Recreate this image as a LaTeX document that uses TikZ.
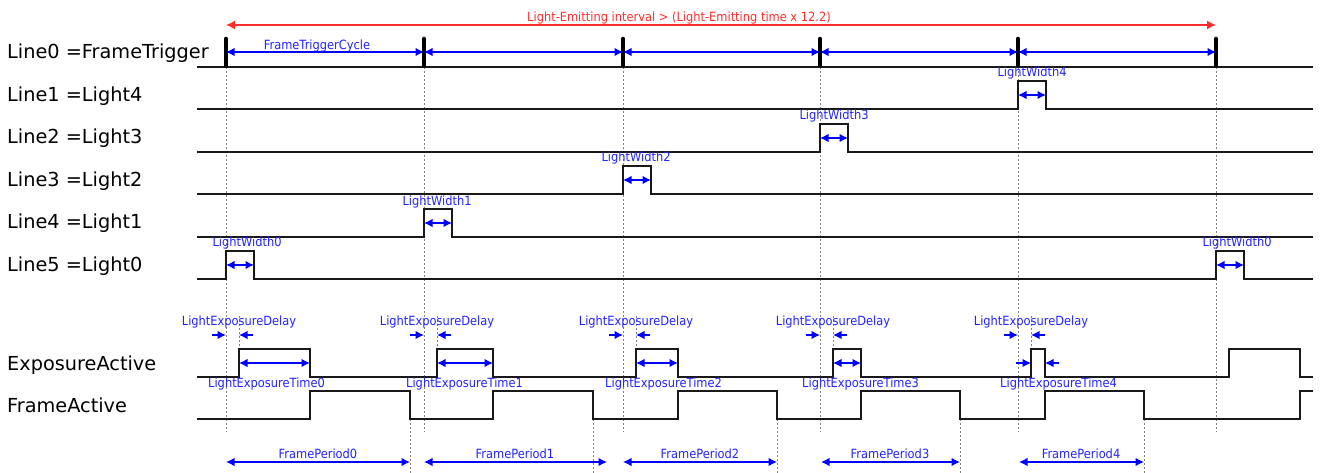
\documentclass[tikz,border=0pt]{standalone}
\usepackage{fontspec}
\setmainfont{DejaVu Sans}
\newfontfamily\smallfont[FakeStretch=0.9]{DejaVu Sans}
\usetikzlibrary{arrows.meta}
\definecolor{dimblue}{RGB}{0,0,255}
\definecolor{txtblue}{RGB}{35,35,255}
\definecolor{txtred}{RGB}{255,45,45}
\definecolor{sigblack}{RGB}{25,25,25}
\tikzset{
  sig/.style={draw=sigblack, line width=1.5pt, line join=miter},
  trig/.style={draw=black, line width=4.6pt, line cap=round},
  guide/.style={draw=gray, line width=0.9pt, dash pattern=on 2pt off 2pt},
  dimboth/.style={draw=dimblue, line width=1.3pt, {Latex[length=8.5pt,width=8.5pt]}-{Latex[length=8.5pt,width=8.5pt]}},
  dimto/.style={draw=dimblue, line width=1.3pt, -{Latex[length=8.5pt,width=8.5pt]}},
  redboth/.style={draw=txtred, line width=1.3pt, {Latex[length=9pt,width=9pt]}-{Latex[length=9pt,width=9pt]}},
  rowlabel/.style={anchor=base west, inner sep=0pt, font=\fontsize{19.3}{19.3}\selectfont, text=black},
  lbl/.style={anchor=base, inner sep=0pt, font=\smallfont\fontsize{12.7}{12.7}\selectfont, text=txtblue},
  lblw/.style={lbl, anchor=base west},
}
\begin{document}
\begin{tikzpicture}[x=1pt,y=-1pt]
\useasboundingbox (0,0) rectangle (1322,473);

% ---- row labels
\node[rowlabel] (r0) at (7,59)  {Line0 =FrameTrigger};
\node[rowlabel] (r1) at (7,102) {Line1 =Light4};
\node[rowlabel] (r2) at (7,144) {Line2 =Light3};
\node[rowlabel] (r3) at (7,186) {Line3 =Light2};
\node[rowlabel] (r4) at (7,229) {Line4 =Light1};
\node[rowlabel] (r5) at (7,271) {Line5 =Light0};
\node[rowlabel] (r6) at (7,370) {ExposureActive};
\node[rowlabel] (r7) at (7,412) {FrameActive};

% ---- guides at trigger instants
\foreach \t in {226,424,623,820,1018,1216}
  \draw[guide] (\t,67) -- (\t,432);
% ---- guides at exposure start
\foreach \t in {239,437,636,833,1031}
  \draw[guide] (\t,316) -- (\t,349);
% ---- guides at FrameActive falls
\foreach \t in {410,593,777,960,1144}
  \draw[guide] (\t,419) -- (\t,473);

% ---- Line0 FrameTrigger
\draw[sig] (197,67) -- (1313,67);
\foreach \i/\t in {0/226,1/424,2/623,3/820,4/1018,5/1216}{
  \draw[trig] (\t,39) -- (\t,65);
  \coordinate (c\i) at (\t,52);
}
\draw[dimboth] (c0) -- (c1);
\draw[dimboth] (c1) -- (c2);
\draw[dimboth] (c2) -- (c3);
\draw[dimboth] (c3) -- (c4);
\draw[dimboth] (c4) -- (c5);
\node[lbl] (ftc) at (317,50) {FrameTriggerCycle};

% ---- red interval
\coordinate (ra) at (226,25);
\coordinate (rb) at (1216,25);
\draw[redboth] (ra) -- (rb);
\node[lbl, text=txtred] (rl) at (679,22) {Light-Emitting interval > (Light-Emitting time x 12.2)};

% ---- Light rows
% Line1 Light4
\draw[sig] (197,109) -- (1018,109) -- (1018,81) -- (1046,81) -- (1046,109) -- (1313,109);
\draw[dimboth] (1018,95) -- (1046,95);
\node[lbl] (w4) at (1032,77) {LightWidth4};
% Line2 Light3
\draw[sig] (197,152) -- (820,152) -- (820,124) -- (848,124) -- (848,152) -- (1313,152);
\draw[dimboth] (820,138) -- (848,138);
\node[lbl] (w3) at (834,120) {LightWidth3};
% Line3 Light2
\draw[sig] (197,194) -- (623,194) -- (623,166) -- (651,166) -- (651,194) -- (1313,194);
\draw[dimboth] (623,180) -- (651,180);
\node[lbl] (w2) at (636,162) {LightWidth2};
% Line4 Light1
\draw[sig] (197,237) -- (424,237) -- (424,209) -- (452,209) -- (452,237) -- (1313,237);
\draw[dimboth] (424,223) -- (452,223);
\node[lbl] (w1) at (437,205) {LightWidth1};
% Line5 Light0
\draw[sig] (197,279) -- (226,279) -- (226,251) -- (254,251) -- (254,279) -- (1216,279) -- (1216,251) -- (1244,251) -- (1244,279) -- (1313,279);
\draw[dimboth] (226,265) -- (254,265);
\draw[dimboth] (1216,265) -- (1244,265);
\node[lbl] (w0) at (247,247) {LightWidth0};
\node[lbl] (w0b) at (1237,247) {LightWidth0};

% ---- LightExposureDelay
\foreach \t/\r in {226/239,424/437,623/636,820/833,1018/1031}{
  \draw[dimto] (\t-14,335) -- (\t,335);
  \draw[dimto] (\r+14,335) -- (\r,335);
  \node[lbl] at (\r,325) {LightExposureDelay};
}

% ---- ExposureActive
\draw[sig] (197,377) -- (239,377) -- (239,349) -- (310,349) -- (310,377)
  -- (437,377) -- (437,349) -- (493,349) -- (493,377)
  -- (636,377) -- (636,349) -- (678,349) -- (678,377)
  -- (833,377) -- (833,349) -- (861,349) -- (861,377)
  -- (1031,377) -- (1031,349) -- (1045,349) -- (1045,377)
  -- (1229,377) -- (1229,349) -- (1300,349) -- (1300,377) -- (1313,377);
\draw[dimboth] (239,363) -- (310,363);
\draw[dimboth] (437,363) -- (493,363);
\draw[dimboth] (636,363) -- (678,363);
\draw[dimboth] (833,363) -- (861,363);
\draw[dimto] (1016,363) -- (1031,363);
\draw[dimto] (1059,363) -- (1045,363);
\node[lblw] (e0) at (208,387) {LightExposureTime0};
\node[lblw] (e1) at (406,387) {LightExposureTime1};
\node[lblw] (e2) at (605,387) {LightExposureTime2};
\node[lblw] (e3) at (802,387) {LightExposureTime3};
\node[lblw] (e4) at (1000,387) {LightExposureTime4};

% ---- FrameActive
\draw[sig] (197,419) -- (310,419) -- (310,391) -- (410,391) -- (410,419)
  -- (493,419) -- (493,391) -- (593,391) -- (593,419)
  -- (678,419) -- (678,391) -- (777,391) -- (777,419)
  -- (861,419) -- (861,391) -- (960,391) -- (960,419)
  -- (1045,419) -- (1045,391) -- (1144,391) -- (1144,419)
  -- (1300,419) -- (1300,391) -- (1313,391);

% ---- FramePeriod
\draw[dimboth] (226,462) -- (410,462);
\draw[dimboth] (424,462) -- (607,462);
\draw[dimboth] (623,462) -- (777,462);
\draw[dimboth] (821,462) -- (960,462);
\draw[dimboth] (1019,462) -- (1144,462);
\node[lbl] (p0) at (318,458) {FramePeriod0};
\node[lbl] (p1) at (515,458) {FramePeriod1};
\node[lbl] (p2) at (700,458) {FramePeriod2};
\node[lbl] (p3) at (890,458) {FramePeriod3};
\node[lbl] (p4) at (1081,458) {FramePeriod4};
\end{tikzpicture}
\end{document}
